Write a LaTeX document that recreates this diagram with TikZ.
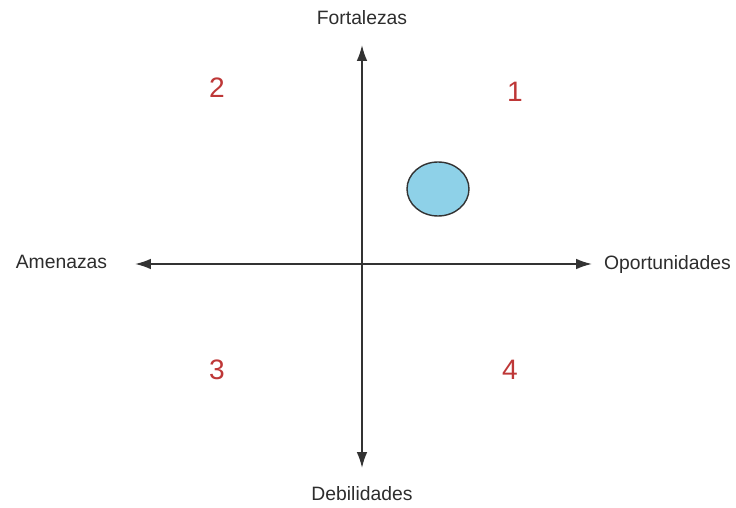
\documentclass[tikz,border=0pt]{standalone}
\usepackage{fontspec}
\setmainfont{Liberation Sans}
\usetikzlibrary{positioning,shapes.geometric,arrows.meta}
\definecolor{celeste}{RGB}{142,209,232}
\definecolor{rojo}{RGB}{190,55,55}
\definecolor{texto}{RGB}{45,45,45}

\begin{document}
\begin{tikzpicture}[
        label/.style={text=texto, font=\fontsize{11}{13}\selectfont},
        cuadrante/.style={text=rojo, font=\fontsize{16}{18}\selectfont},
        eje/.style={{Latex[length=9pt,width=6pt]}-{Latex[length=9pt,width=6pt]}, line width=1pt, black!80},
        marca/.style={ellipse, draw=black!80, fill=celeste, line width=0.8pt, minimum width=1.24cm, minimum height=1.08cm}
    ]
    \useasboundingbox (0,0) rectangle (14.72,10.16);

    % Axes
    \coordinate (arriba) at (7.24, 9.26);
    \coordinate (abajo) at (7.24, 0.80);
    \coordinate (izquierda) at (2.70, 4.88);
    \coordinate (derecha) at (11.84, 4.88);
    \draw[eje] (arriba) -- (abajo);
    \draw[eje] (izquierda) -- (derecha);

    % Axis labels
    \node[label] (F) at (7.24, 9.80) {Fortalezas};
    \node[label] (D) at (7.24, 0.28) {Debilidades};
    \node[label] (A) at (1.23, 4.92) {Amenazas};
    \node[label] (O) at (13.35, 4.86) {Oportunidades};

    % Quadrants
    \node[cuadrante] (q1) at (10.30, 8.32) {1};
    \node[cuadrante] (q2) at (4.34, 8.40) {2};
    \node[cuadrante] (q3) at (4.34, 2.76) {3};
    \node[cuadrante] (q4) at (10.20, 2.76) {4};

    \node[marca] (pos) at (8.76, 6.38) {};
\end{tikzpicture}
\end{document}
